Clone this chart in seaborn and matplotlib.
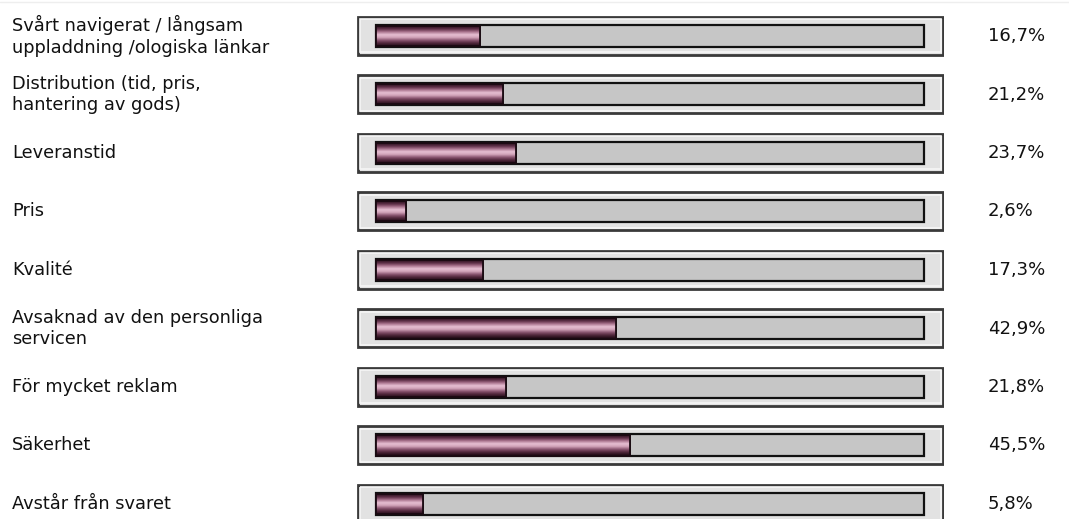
import numpy as np
import pandas as pd
import matplotlib
matplotlib.use("Agg")
import matplotlib.pyplot as plt
import seaborn as sns
from matplotlib.colors import LinearSegmentedColormap

# ---- data ----
categories = [
    "Svårt navigerat / långsam\nuppladdning /ologiska länkar",
    "Distribution (tid, pris,\nhantering av gods)",
    "Leveranstid",
    "Pris",
    "Kvalité",
    "Avsaknad av den personliga\nservicen",
    "För mycket reklam",
    "Säkerhet",
    "Avstår från svaret",
]
values = [16.7, 21.2, 23.7, 2.6, 17.3, 42.9, 21.8, 45.5, 5.8]
value_labels = ["16,7%", "21,2%", "23,7%", "2,6%", "17,3%", "42,9%", "21,8%", "45,5%", "5,8%"]

df = pd.DataFrame({"cat": categories, "val": values})

# ---- layout / style ----
W, H = 1069, 519
sns.set_theme(style="white")
plt.rcParams["font.family"] = ["DejaVu Sans"]
fig = plt.figure(figsize=(W / 100, H / 100), dpi=100)
fig.patch.set_facecolor("white")

frame_left_px, frame_right_px = 357, 944
zero_px, px_per_pct = 392.4, 5.22
ax = fig.add_axes([frame_left_px / W, 0, (frame_right_px - frame_left_px) / W, 1])
xmin = (frame_left_px - zero_px) / px_per_pct
xmax = (frame_right_px - zero_px) / px_per_pct
track_start = (376.5 - zero_px) / px_per_pct
track_end = (923.5 - zero_px) / px_per_pct

row0_px, step_px = 36.0, 58.5
n = len(categories)
pos = np.arange(n)

# outer frames
ax.barh(pos, xmax - xmin - 0.25, left=xmin + 0.12, height=38 / step_px,
        color="#e2e2e2", edgecolor="#3a3a3a", linewidth=2.0, zorder=1)
# inner light edge
ax.barh(pos, xmax - xmin - 1.0, left=xmin + 0.5, height=33 / step_px,
        color="none", edgecolor="#f6f6f6", linewidth=1.2, zorder=1.5)
# track
ax.barh(pos, track_end - track_start, left=track_start, height=22 / step_px,
        color="#c6c6c6", edgecolor="#111111", linewidth=1.6, zorder=2)

# value bars through seaborn (width measured from track start)
bar_df = df.assign(w=df["val"] - track_start)
sns.barplot(data=bar_df, x="w", y="cat", orient="h", ax=ax, color="#5a2a42",
            width=20 / step_px, edgecolor="#1a0a12", linewidth=1.2, zorder=3,
            saturation=1)
cmap = LinearSegmentedColormap.from_list(
    "bar", ["#2a0f1c", "#5e3048", "#a8728c", "#e6bfd2", "#d2a4ba", "#8a5570", "#52283c", "#240c18"])
grad = np.linspace(0, 1, 64).reshape(-1, 1)
for patch in ax.patches[-n:]:
    patch.set_x(track_start)
    x0, y0 = patch.get_x(), patch.get_y()
    w, h = patch.get_width(), patch.get_height()
    im = ax.imshow(grad, cmap=cmap, aspect="auto", extent=(x0, x0 + w, y0 + h, y0),
                   zorder=3.5, interpolation="bilinear")
    im.set_clip_path(patch)
    ax.barh(y0 + h / 2, w, left=x0, height=h, color="none", edgecolor="#1a0a12",
            linewidth=1.3, zorder=4)

ax.set_xlim(xmin, xmax)
top = -row0_px / step_px
bottom = (H - row0_px) / step_px
ax.set_ylim(bottom, top)
ax.set_axis_off()

# labels
for i in range(n):
    ypx = row0_px + step_px * i
    fig.text(12 / W, 1 - ypx / H, categories[i], ha="left", va="center",
             fontsize=12.8, color="#111111", linespacing=1.28)
    fig.text(988 / W, 1 - ypx / H, value_labels[i], ha="left", va="center",
             fontsize=13, color="#111111")

fig.add_artist(plt.Line2D([0, 1], [1 - 1.5 / H, 1 - 1.5 / H], color="#eeeeee", lw=1))

fig.savefig("out.png", dpi=100, facecolor="white")
